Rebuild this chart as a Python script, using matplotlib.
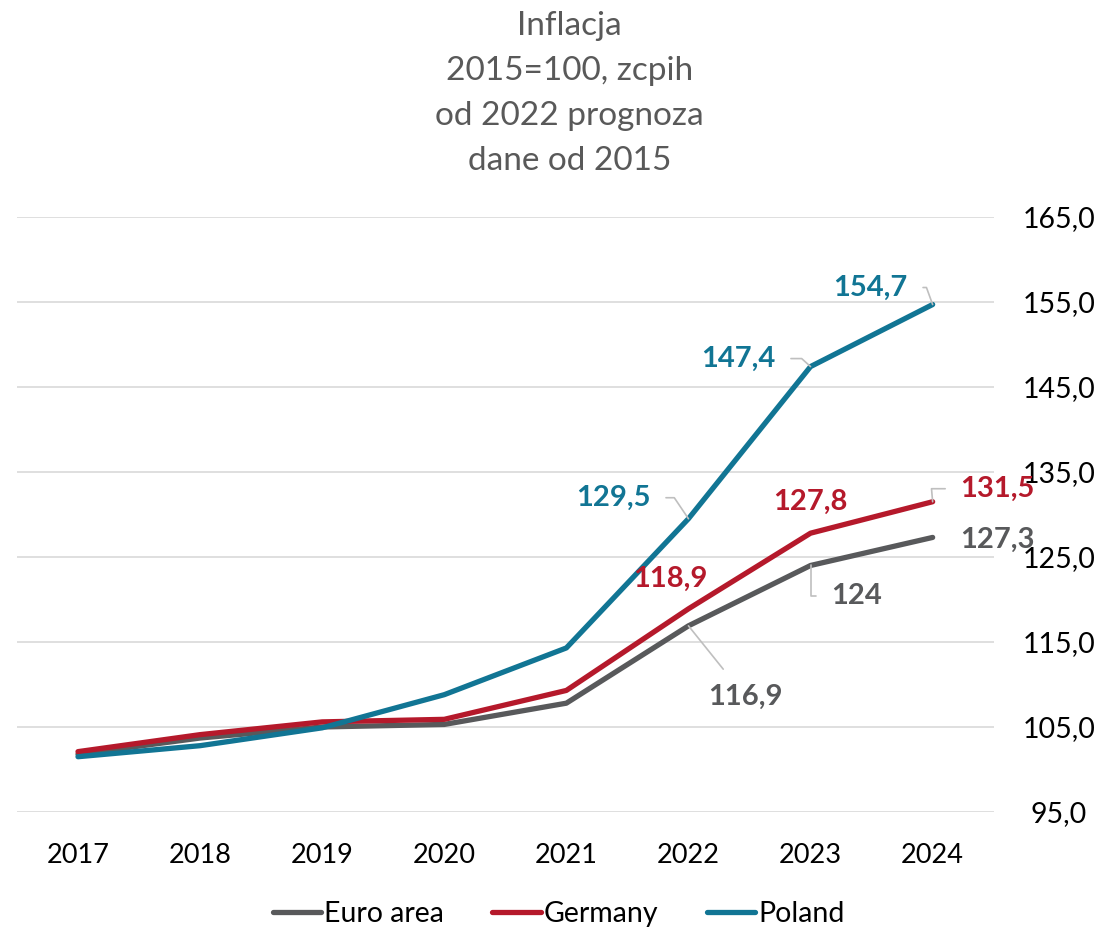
import matplotlib
matplotlib.use("Agg")
import matplotlib.pyplot as plt

plt.rcParams['font.family'] = ['Lato', 'DejaVu Sans']

years = ['2017', '2018', '2019', '2020', '2021', '2022', '2023', '2024']
euro_area = [101.8, 103.7, 105.0, 105.3, 107.8, 116.9, 124.0, 127.3]
germany = [102.1, 104.1, 105.6, 105.9, 109.3, 118.9, 127.8, 131.5]
poland = [101.5, 102.8, 104.9, 108.8, 114.3, 129.5, 147.4, 154.7]
y_ticks = [95, 105, 115, 125, 135, 145, 155, 165]

c_euro = '#58595B'
c_ger = '#B5192B'
c_pol = '#117594'
c_leader = '#BFBFBF'

fig = plt.figure(figsize=(11.15, 9.3), dpi=100)
ax = fig.add_axes([0.0152, 0.1269, 0.876, 0.6398])

x = range(len(years))
ax.plot(x, euro_area, color=c_euro, lw=3.8, label='Euro area', solid_capstyle='round', zorder=3)
ax.plot(x, germany, color=c_ger, lw=3.8, label='Germany', solid_capstyle='round', zorder=4)
ax.plot(x, poland, color=c_pol, lw=3.8, label='Poland', solid_capstyle='round', zorder=5)

ax.set_xlim(-0.5, 7.5)
ax.set_ylim(95, 165)
ax.set_xticks(list(x))
ax.set_xticklabels(years)
ax.set_yticks(y_ticks)
ax.set_yticklabels([f"{v:.1f}".replace('.', ',') for v in y_ticks])
ax.yaxis.tick_right()
ax.grid(axis='y', color='#D9D9D9', lw=1.2)
ax.set_axisbelow(True)
for s in ax.spines.values():
    s.set_visible(False)
ax.tick_params(axis='x', length=0, pad=22, labelsize=19.5)
ax.tick_params(axis='y', length=0, pad=47, labelsize=20.5)
for lab in ax.get_yticklabels():
    lab.set_horizontalalignment('center')


def label(i, series, text, color, dx, dy, leader=False, conn='arc3', gap=9):
    kw = {}
    if leader:
        kw['arrowprops'] = dict(arrowstyle='-', color=c_leader, lw=1.2,
                                shrinkA=gap, shrinkB=0, connectionstyle=conn)
    ax.annotate(text, (i, series[i]), xytext=(dx, dy), textcoords='offset pixels',
                ha='center', va='center', fontsize=21, fontweight='bold',
                color=color, zorder=6, **kw)


fmt = lambda v: f"{v:g}".replace('.', ',')
label(5, poland, fmt(poland[5]), c_pol, -75, 21, True, 'angle,angleA=0,angleB=124,rad=0')
label(6, poland, fmt(poland[6]), c_pol, -72, 8, True, 'angle,angleA=0,angleB=138,rad=0')
label(7, poland, fmt(poland[7]), c_pol, -62, 17, True, 'angle,angleA=0,angleB=110,rad=0')
label(5, germany, fmt(germany[5]), c_ger, -18, 30)
label(6, germany, fmt(germany[6]), c_ger, 0, 31)
label(7, germany, fmt(germany[7]), c_ger, 65, 13, True, 'angle,angleA=0,angleB=95,rad=0')
label(5, euro_area, fmt(euro_area[5]), c_euro, 57, -71, True, gap=11)
label(6, euro_area, fmt(euro_area[6]), c_euro, 46, -31, True, 'angle,angleA=0,angleB=90,rad=0')
label(7, euro_area, fmt(euro_area[7]), c_euro, 65, -2)

fig.text(0.511, 0.988, "Inflacja\n2015=100, zcpih\nod 2022 prognoza\ndane od 2015",
         ha='center', va='top', fontsize=24, color='#595959', linespacing=1.62)

fig.legend(loc='center', bbox_to_anchor=(0.501, 0.017), ncol=3, frameon=False,
           fontsize=20.5, handlelength=1.7, handletextpad=0.1, columnspacing=1.7)

fig.savefig('out.png', dpi=100)
